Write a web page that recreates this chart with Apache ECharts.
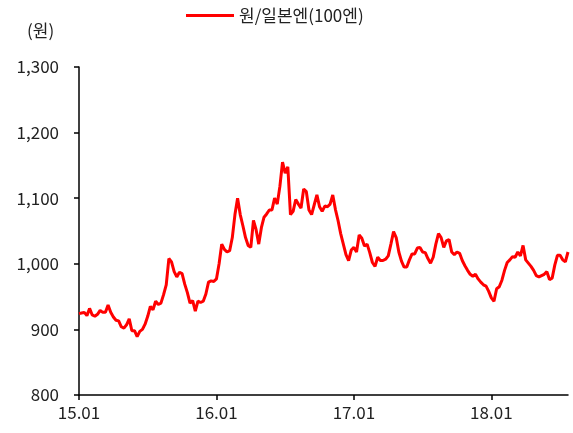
<!DOCTYPE html>
<html>
<head>
<meta charset="utf-8">
<script src="https://cdn.jsdelivr.net/npm/echarts@6/dist/echarts.min.js"></script>
<style>
  html, body { margin: 0; padding: 0; background: #fff; }
  #chart { width: 573px; height: 433px; }
</style>
</head>
<body>
<div id="chart"></div>
<script>
// KRW per 100 JPY, weekly closes (Fridays) starting 2015-01-02
const seriesName = '원/일본엔(100엔)';
const unitLabel = '(원)';
const firstWeek = '2015-01-02';
const yMin = 800, yMax = 1300, yStep = 100;

const weeklyRate = [
  924, 925, 926, 921, 932, 922, 920, 923, 929, 926,
  926, 937, 926, 919, 914, 913, 904, 902, 907, 916,
  898, 898, 889, 897, 900, 908, 920, 935, 930, 943,
  938, 940, 953, 968, 1008, 1003, 988, 980, 987, 985,
  969, 956, 940, 944, 928, 943, 941, 943, 954, 972,
  974, 973, 977, 1000, 1030, 1022, 1018, 1020, 1040, 1075,
  1100, 1075, 1058, 1040, 1028, 1025, 1066, 1052, 1030, 1055,
  1071, 1076, 1082, 1082, 1100, 1091, 1118, 1155, 1138, 1148,
  1075, 1080, 1098, 1091, 1085, 1114, 1110, 1082, 1075, 1090,
  1105, 1087, 1080, 1088, 1087, 1091, 1105, 1083, 1066, 1046,
  1030, 1014, 1005, 1021, 1025, 1018, 1044, 1039, 1027, 1030,
  1017, 1002, 996, 1010, 1005, 1005, 1007, 1012, 1030, 1049,
  1040, 1018, 1004, 995, 995, 1006, 1015, 1015, 1024, 1025,
  1018, 1017, 1008, 1001, 1010, 1030, 1046, 1040, 1025, 1035,
  1037, 1018, 1014, 1018, 1016, 1005, 997, 990, 984, 981,
  984, 977, 972, 968, 966, 958, 948, 943, 962, 965,
  975, 990, 1002, 1006, 1011, 1010, 1018, 1012, 1028, 1006,
  1001, 996, 990, 982, 980, 982, 984, 988, 976, 978,
  998, 1013, 1013, 1006, 1003, 1018
];

// one Friday per week, as YYYY-MM-DD
const start = new Date(firstWeek + 'T00:00:00Z');
const weekDates = weeklyRate.map((_, i) => {
  const d = new Date(start.getTime());
  d.setUTCDate(d.getUTCDate() + 7 * i);
  return d.toISOString().slice(0, 10);
});

// the week nearest to 1 January gets a 'YY.01' tick
function yearMark(dateStr) {
  const d = new Date(dateStr + 'T00:00:00Z');
  d.setUTCDate(d.getUTCDate() + 3);
  if (d.getUTCMonth() === 0 && d.getUTCDate() <= 7) {
    return String(d.getUTCFullYear()).slice(2) + '.01';
  }
  return null;
}

const FONT = '"Noto Sans CJK KR", "Noto Sans", sans-serif';
const chart = echarts.init(document.getElementById('chart'), null, { renderer: 'canvas' });

chart.setOption({
  animation: false,
  backgroundColor: '#fff',
  textStyle: { fontFamily: FONT, color: '#000' },
  grid: { left: 79, right: 5, top: 67, bottom: 38, containLabel: false },
  legend: {
    data: [seriesName],
    left: 181,
    top: 2,
    icon: 'rect',
    itemWidth: 48,
    itemHeight: 3,
    itemGap: 6,
    textStyle: { fontFamily: FONT, fontSize: 17, color: '#222' }
  },
  graphic: [{
    type: 'text',
    left: 27,
    top: 22,
    style: { text: unitLabel, font: '17px ' + FONT, fill: '#222' }
  }],
  xAxis: {
    type: 'category',
    data: weekDates,
    boundaryGap: false,
    axisLine: { lineStyle: { color: '#000', width: 1.5 } },
    axisTick: {
      length: 5,
      interval: (i, v) => yearMark(v) !== null,
      lineStyle: { color: '#000', width: 1.5 }
    },
    axisLabel: {
      interval: (i, v) => yearMark(v) !== null,
      formatter: v => yearMark(v) || '',
      margin: 9,
      fontSize: 17,
      fontFamily: FONT,
      color: '#222'
    },
    splitLine: { show: false }
  },
  yAxis: {
    type: 'value',
    min: yMin,
    max: yMax,
    interval: yStep,
    axisLine: { show: true, lineStyle: { color: '#000', width: 1.5 } },
    axisTick: { show: true, length: 5, lineStyle: { color: '#000', width: 1.5 } },
    axisLabel: {
      formatter: v => v.toLocaleString('en-US'),
      margin: 20,
      fontSize: 17,
      fontFamily: FONT,
      color: '#222'
    },
    splitLine: { show: false }
  },
  series: [{
    name: seriesName,
    type: 'line',
    data: weeklyRate,
    showSymbol: false,
    symbol: 'none',
    lineStyle: { color: '#ff0000', width: 3 },
    itemStyle: { color: '#ff0000' }
  }]
});
</script>
</body>
</html>
